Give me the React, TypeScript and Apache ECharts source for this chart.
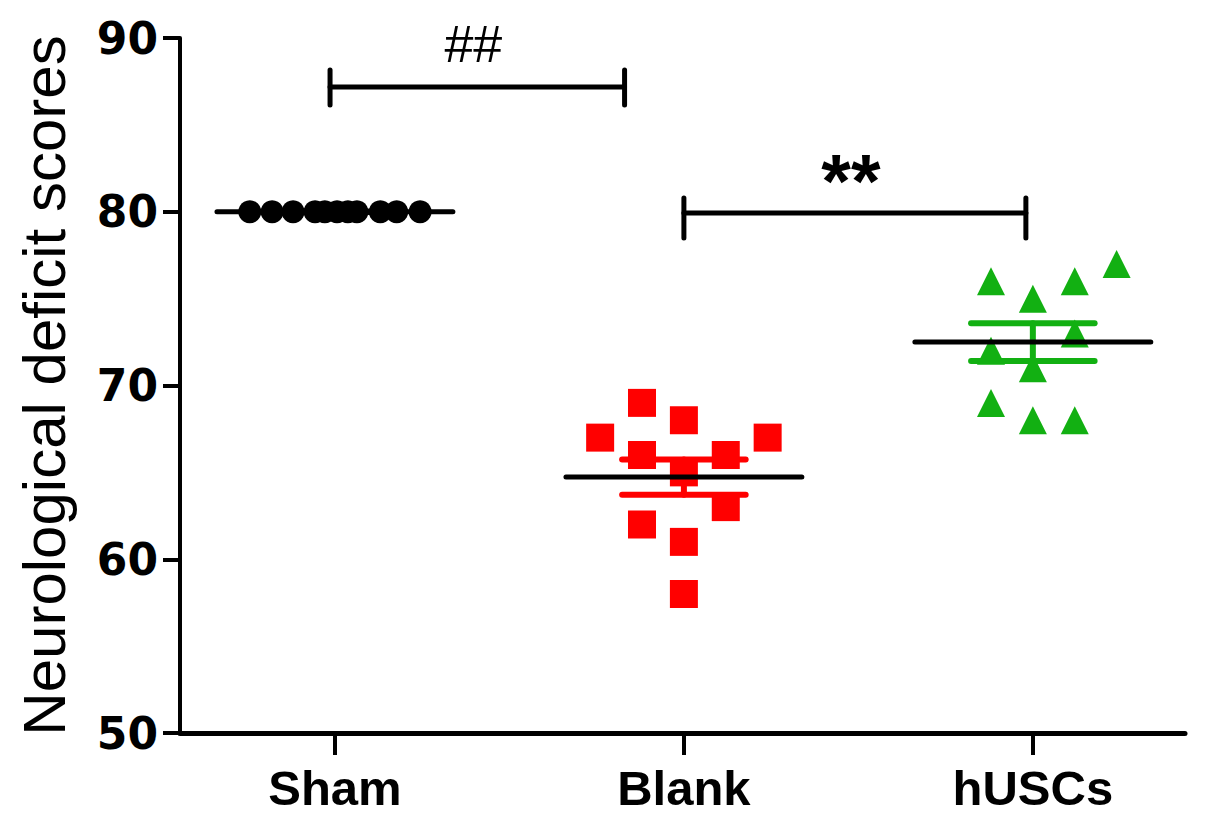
import React, { useEffect, useRef } from "react";
import * as echarts from "echarts";

const categories = ["Sham", "Blank", "hUSCs"];
const groupPositions = [1, 2, 3];
const groupColors = ["#000000", "#FF0000", "#12B012"];
const groupSymbols = ["circle", "rect", "triangle"];
const groupSymbolSizes = [23, 28, 28];

const shamScores = [80, 80, 80, 80, 80, 80, 80, 80, 80, 80, 80];
const shamJitter = [-0.244, -0.18, -0.12, -0.057, -0.029, 0.006, 0.037, 0.063, 0.13, 0.177, 0.244];

const blankScores = [69, 68, 67, 67, 66, 66, 65, 63, 62, 61, 58];
const blankJitter = [-0.12, 0, -0.24, 0.24, -0.12, 0.12, 0, 0.12, -0.12, 0, 0];

const huscsScores = [77, 76, 76, 75, 73, 72, 71, 69, 68, 68];
const huscsJitter = [0.24, -0.12, 0.12, 0, 0.12, -0.12, 0, -0.12, 0, 0.12];

const yTicks = [50, 60, 70, 80, 90];

// significance brackets: [x1, x2, y, yTop, yBottom]
const sigLabels = ["##", "**"];
const sigBrackets = [
  [0.986, 1.83, 87.18, 88.16, 86.14],
  [2.0, 2.98, 79.93, 80.79, 78.49],
];

const allScores = [shamScores, blankScores, huscsScores];
const allJitter = [shamJitter, blankJitter, huscsJitter];

function mean(a: number[]) {
  return a.reduce((s, v) => s + v, 0) / a.length;
}
function sem(a: number[]) {
  const m = mean(a);
  const v = a.reduce((s, x) => s + (x - m) * (x - m), 0) / (a.length - 1);
  return Math.sqrt(v) / Math.sqrt(a.length);
}

const MEAN_HALF = 0.338;
const CAP_HALF = 0.177;

export default function App() {
  const ref = useRef<HTMLDivElement>(null);
  useEffect(() => {
    if (!ref.current) return;
    const chart = echarts.init(ref.current, undefined, { renderer: "svg" });

    const scatterSeries = allScores.map((scores, g) => ({
      type: "scatter",
      name: categories[g],
      symbol: groupSymbols[g],
      symbolSize: groupSymbolSizes[g],
      itemStyle: { color: groupColors[g], opacity: 1 },
      data: scores.map((v, i) => [groupPositions[g] + allJitter[g][i], v]),
      z: 2,
    }));

    const stats = allScores.map((s, g) => [groupPositions[g], mean(s), sem(s)]);

    const option: any = {
      animation: false,
      backgroundColor: "#ffffff",
      grid: { left: 180, right: 20, top: 38, bottom: 91, containLabel: false },
      xAxis: {
        type: "value",
        min: 0.556,
        max: 3.436,
        axisLine: { show: true, onZero: false, lineStyle: { color: "#000", width: 5 } },
        splitLine: { show: false },
        axisTick: { show: true, customValues: groupPositions, length: 22, lineStyle: { color: "#000", width: 4 } },
        axisLabel: {
          customValues: groupPositions,
          formatter: (v: number) => categories[Math.round(v) - 1] ?? "",
          margin: 30,
          fontSize: 49,
          fontWeight: "bold",
          fontFamily: "Liberation Sans",
          color: "#000",
        },
      },
      yAxis: {
        type: "value",
        min: 50,
        max: 90,
        interval: 10,
        name: "Neurological deficit scores",
        nameLocation: "middle",
        nameGap: 106,
        nameTextStyle: { fontSize: 60, fontFamily: "Liberation Sans", color: "#000" },
        axisLine: { show: true, lineStyle: { color: "#000", width: 4 } },
        splitLine: { show: false },
        axisTick: { show: true, length: 17, lineStyle: { color: "#000", width: 4 } },
        axisLabel: {
          customValues: yTicks,
          margin: 22,
          fontSize: 44,
          fontWeight: "bold",
          fontFamily: "DejaVu Sans",
          color: "#000",
        },
      },
      series: [
        ...scatterSeries,
        {
          type: "custom",
          name: "sem",
          z: 3,
          encode: { x: 0, y: 1 },
          data: stats,
          renderItem: (params: any, api: any) => {
            const x = api.value(0);
            const m = api.value(1);
            const s = api.value(2);
            const top = api.coord([x, m + s]);
            const bot = api.coord([x, m - s]);
            const hw = api.size([CAP_HALF, 0])[0];
            const color = groupColors[params.dataIndex];
            const st = { stroke: color, lineWidth: 6, lineCap: "round" };
            return {
              type: "group",
              children: [
                { type: "line", shape: { x1: top[0], y1: top[1], x2: bot[0], y2: bot[1] }, style: st },
                { type: "line", shape: { x1: top[0] - hw, y1: top[1], x2: top[0] + hw, y2: top[1] }, style: st },
                { type: "line", shape: { x1: bot[0] - hw, y1: bot[1], x2: bot[0] + hw, y2: bot[1] }, style: st },
              ],
            };
          },
        },
        {
          type: "custom",
          name: "mean",
          z: 4,
          encode: { x: 0, y: 1 },
          data: stats,
          renderItem: (params: any, api: any) => {
            const p = api.coord([api.value(0), api.value(1)]);
            const hw = api.size([MEAN_HALF, 0])[0];
            return {
              type: "line",
              shape: { x1: p[0] - hw, y1: p[1], x2: p[0] + hw, y2: p[1] },
              style: { stroke: "#000", lineWidth: 5, lineCap: "round" },
            };
          },
        },
        {
          type: "custom",
          name: "significance",
          z: 5,
          encode: { x: 0, y: 2 },
          data: sigBrackets,
          renderItem: (params: any, api: any) => {
            const x1 = api.value(0);
            const x2 = api.value(1);
            const y = api.value(2);
            const yt = api.value(3);
            const yb = api.value(4);
            const a = api.coord([x1, y]);
            const b = api.coord([x2, y]);
            const at = api.coord([x1, yt]);
            const ab = api.coord([x1, yb]);
            const bt = api.coord([x2, yt]);
            const bb = api.coord([x2, yb]);
            const st = { stroke: "#000", lineWidth: 5, lineCap: "round" };
            const label = sigLabels[params.dataIndex];
            const isStar = label === "**";
            return {
              type: "group",
              children: [
                { type: "line", shape: { x1: a[0], y1: a[1], x2: b[0], y2: b[1] }, style: st },
                { type: "line", shape: { x1: at[0], y1: at[1], x2: ab[0], y2: ab[1] }, style: st },
                { type: "line", shape: { x1: bt[0], y1: bt[1], x2: bb[0], y2: bb[1] }, style: st },
                {
                  type: "text",
                  x: (a[0] + b[0]) / 2 - 4,
                  y: a[1] - (isStar ? 32 : 43),
                  style: {
                    text: label,
                    fill: "#000",
                    fontSize: isStar ? 76 : 52,
                    fontWeight: isStar ? "bold" : "normal",
                    fontFamily: "Liberation Sans",
                    align: "center",
                    verticalAlign: "middle",
                  },
                },
              ],
            };
          },
        },
      ],
    };
    chart.setOption(option);
    return () => chart.dispose();
  }, []);
  return (
    <div
      ref={ref}
      style={{ position: "fixed", left: 0, top: 0, width: 1205, height: 824, background: "#fff" }}
    />
  );
}
